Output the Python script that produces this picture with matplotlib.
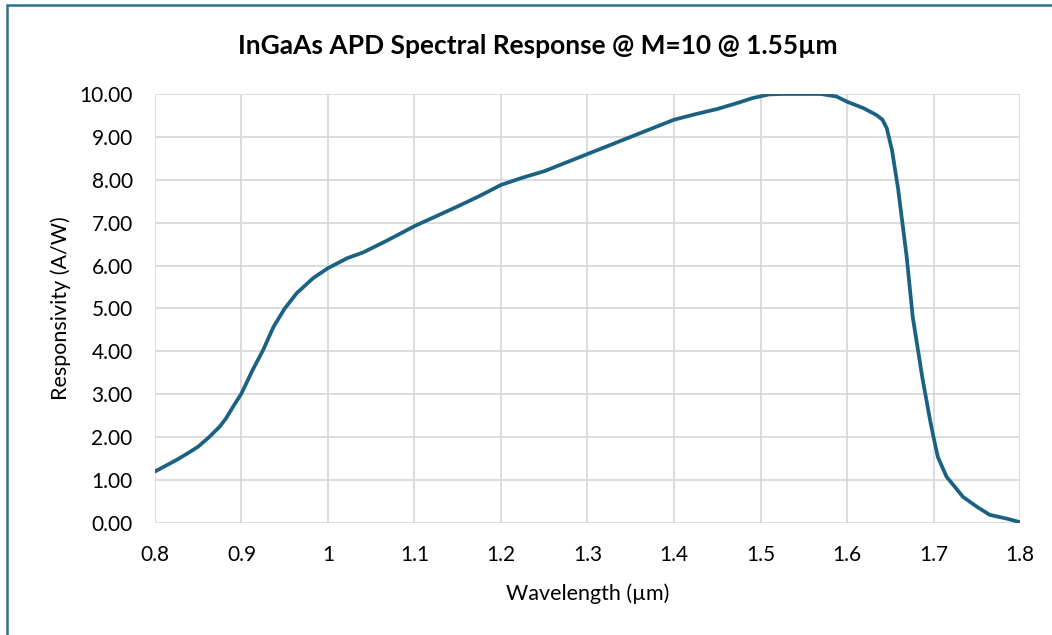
import matplotlib.pyplot as plt
from matplotlib.patches import Rectangle

# Wavelength (um) and responsivity (A/W)
wavelength = [0.80, 0.825, 0.8375, 0.85, 0.8625, 0.875, 0.8825, 0.89, 0.90, 0.913,
              0.925, 0.937, 0.95, 0.964, 0.983, 1.00, 1.022, 1.041, 1.068, 1.10,
              1.125, 1.15, 1.175, 1.20, 1.225, 1.25, 1.275, 1.30, 1.325, 1.35,
              1.375, 1.40, 1.425, 1.45, 1.475, 1.49, 1.51, 1.525, 1.55, 1.57,
              1.588, 1.60, 1.619, 1.634, 1.641, 1.646, 1.652, 1.659, 1.669, 1.676,
              1.687, 1.696, 1.70, 1.705, 1.715, 1.734, 1.75, 1.765, 1.785, 1.80]
responsivity = [1.20, 1.47, 1.62, 1.78, 2.00, 2.25, 2.45, 2.70, 3.02, 3.57,
                4.03, 4.57, 5.00, 5.36, 5.71, 5.94, 6.17, 6.31, 6.58, 6.92,
                7.15, 7.38, 7.62, 7.88, 8.05, 8.20, 8.40, 8.60, 8.80, 9.00,
                9.20, 9.40, 9.53, 9.65, 9.80, 9.90, 9.99, 10.00, 10.00, 10.00,
                9.94, 9.82, 9.67, 9.51, 9.40, 9.20, 8.69, 7.80, 6.20, 4.80,
                3.40, 2.40, 2.00, 1.54, 1.08, 0.61, 0.38, 0.19, 0.10, 0.02]

x_ticks = [0.8, 0.9, 1.0, 1.1, 1.2, 1.3, 1.4, 1.5, 1.6, 1.7, 1.8]
x_tick_labels = ['0.8', '0.9', '1', '1.1', '1.2', '1.3', '1.4', '1.5', '1.6', '1.7', '1.8']
y_ticks = list(range(0, 11))

plt.rcParams['font.family'] = ['Lato', 'DejaVu Sans']

fig = plt.figure(figsize=(10.52, 6.35), dpi=100)
ax = fig.add_axes([0.1473, 0.1764, 0.8223, 0.6756])

# chart border (only left and top visible in the reference)
fig.patches.append(Rectangle((7 / 1052, -0.1), 1.2, 1 - 5 / 635 + 0.1,
                             transform=fig.transFigure, fill=False,
                             edgecolor='#2E6F8E', linewidth=1.8))

ax.plot(wavelength, responsivity, color='#1B6282', linewidth=2.7,
        solid_capstyle='round', solid_joinstyle='round', zorder=3)

ax.set_xlim(0.8, 1.8)
ax.set_ylim(0, 10)
ax.set_xticks(x_ticks)
ax.set_xticklabels(x_tick_labels)
ax.set_yticks(y_ticks)
ax.set_yticklabels([f'{v:.2f}' for v in y_ticks])
ax.grid(True, color='#D9D9D9', linewidth=1.3)
ax.set_axisbelow(True)
for s in ax.spines.values():
    s.set_visible(False)
ax.tick_params(axis='both', length=0, labelsize=15, colors='black')
ax.tick_params(axis='y', pad=16)
ax.tick_params(axis='x', pad=16)

ax.set_xlabel('Wavelength (µm)', fontsize=15.5, labelpad=13)
ax.set_ylabel('Responsivity (A/W)', fontsize=15.5, labelpad=6)
fig.text(0.511, 1 - 46 / 635, 'InGaAs APD Spectral Response @ M=10 @ 1.55µm',
         ha='center', va='center', fontsize=19, fontweight='bold')

plt.savefig('out.png', dpi=100)
plt.close()
